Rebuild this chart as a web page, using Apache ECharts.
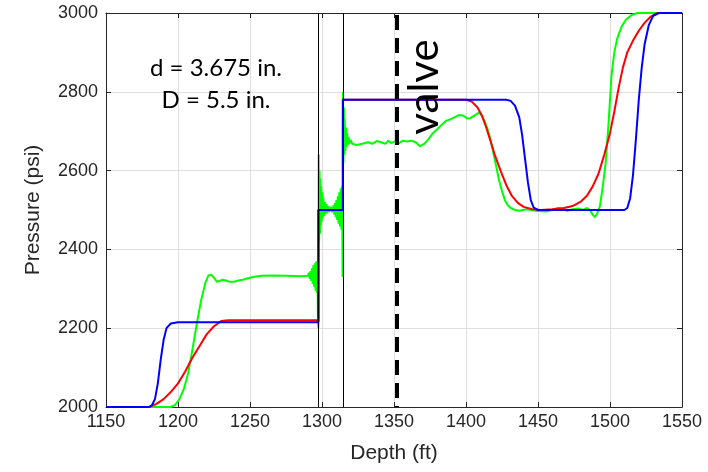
<!DOCTYPE html>
<html>
<head>
<meta charset="utf-8">
<script src="https://cdn.jsdelivr.net/npm/echarts@6/dist/echarts.min.js"></script>
<style>
html,body{margin:0;padding:0;background:#fff;}
#chart{width:708px;height:472px;}
</style>
</head>
<body>
<div id="chart"></div>
<script>
// ---- Data ----
const xTicks = [1150, 1200, 1250, 1300, 1350, 1400, 1450, 1500, 1550];
const yTicks = [2000, 2200, 2400, 2600, 2800, 3000];
const dividerDepths = [1297.5, 1314.5];
const valveDepth = 1352;

const bluePoints = [
  [1150,2000],[1180,2000],[1182,2005],[1184,2020],[1186,2060],[1188,2120],[1190,2170],
  [1192,2200],[1195,2212],[1200,2215],[1297.5,2215],[1297.5,2500],[1314.5,2500],
  [1314.5,2780],[1428,2780],[1431,2777],[1434,2765],[1437,2735],[1439,2690],[1441,2630],
  [1443,2570],[1445,2525],[1447,2506],[1450,2500],[1510,2500],[1512,2505],[1514,2530],
  [1516,2590],[1518,2680],[1520,2780],[1522,2860],[1524,2920],[1527,2970],[1530,2993],
  [1534,3000],[1550,3000]
];

const redPoints = [
  [1150,2000],[1180,2000],[1185,2008],[1190,2020],[1195,2038],[1200,2060],[1205,2090],
  [1210,2125],[1215,2155],[1220,2185],[1225,2205],[1230,2218],[1235,2220],[1297.5,2220],
  [1297.5,2500],[1314.5,2500],[1314.5,2780],[1400,2780],[1404,2775],[1408,2760],
  [1411,2740],[1414,2710],[1417,2675],[1420,2640],[1424,2600],[1428,2563],[1432,2535],
  [1436,2518],[1440,2508],[1446,2502],[1452,2500],[1460,2502],[1468,2505],[1474,2510],
  [1480,2522],[1484,2536],[1488,2560],[1492,2592],[1496,2640],[1500,2695],[1503,2750],
  [1506,2810],[1509,2862],[1512,2900],[1516,2930],[1520,2955],[1524,2975],[1528,2990],
  [1533,3000],[1550,3000]
];

const greenPoints = [
  [1150,2000],[1195,2000],[1198,2005],[1201,2020],[1204,2045],[1207,2085],[1210,2145],
  [1213,2210],[1216,2270],[1219,2315],[1221,2333],[1223,2336],[1225,2328],[1227,2318],
  [1229,2320],[1231,2323],[1233,2321],[1236,2318],[1239,2318],[1242,2321],[1245,2323],
  [1248,2326],[1252,2330],[1258,2333],[1265,2334],[1275,2333],[1285,2332],[1290,2333],
  [1291,2340],[1291.5,2325],[1292,2345],[1292.5,2320],[1293,2352],[1293.5,2312],
  [1294,2360],[1294.5,2305],[1295,2365],[1295.5,2295],[1296,2370],[1296.5,2290],
  [1297,2300],[1297.2,2215],[1297.5,2200],[1297.7,2640],[1298,2420],[1298.3,2600],
  [1298.6,2440],[1298.9,2580],[1299.2,2460],[1299.5,2560],[1299.8,2470],[1300.2,2545],
  [1300.6,2480],[1301,2530],[1301.5,2485],[1302,2520],[1302.5,2490],[1303,2515],
  [1303.5,2492],[1304,2510],[1305,2495],[1306,2508],[1307,2494],[1308,2512],[1308.5,2488],
  [1309,2518],[1309.5,2482],[1310,2525],[1310.5,2475],[1311,2535],[1311.5,2465],
  [1312,2545],[1312.5,2458],[1313,2555],[1313.5,2450],[1314,2560],[1314.3,2330],
  [1314.6,2800],[1314.9,2620],[1315.2,2760],[1315.5,2640],[1315.8,2730],[1316.2,2650],
  [1316.6,2710],[1317,2660],[1317.5,2695],[1318,2665],[1318.5,2685],[1319,2668],
  [1320,2678],[1321,2668],[1322,2672],[1324,2665],[1328,2668],[1332,2672],[1335,2668],
  [1338,2675],[1341,2672],[1344,2668],[1346,2676],[1348,2670],[1351,2674],[1353,2668],
  [1356,2676],[1359,2674],[1362,2676],[1365,2672],[1368,2662],[1371,2668],[1374,2680],
  [1377,2695],[1380,2705],[1383,2716],[1386,2726],[1389,2730],[1392,2735],[1395,2741],
  [1398,2740],[1401,2732],[1403,2733],[1406,2740],[1409,2747],[1411,2740],[1413,2725],
  [1415,2705],[1417,2680],[1419,2645],[1421,2610],[1423,2575],[1425,2548],[1427,2525],
  [1429,2512],[1431,2505],[1434,2500],[1437,2498],[1442,2502],[1447,2499],[1452,2497],
  [1456,2496],[1460,2501],[1464,2505],[1467,2503],[1470,2498],[1474,2502],[1478,2504],
  [1481,2500],[1484,2505],[1486,2500],[1488,2488],[1489.5,2482],[1491,2490],[1493,2510],
  [1495,2560],[1497,2620],[1499,2720],[1501,2840],[1503,2900],[1505,2935],[1508,2965],
  [1511,2983],[1515,2995],[1519,3000],[1550,3000]
];

// ---- Chart ----
const chart = echarts.init(document.getElementById('chart'), null, {renderer: 'canvas'});
const axisColor = '#262626';
const sansFont = 'Liberation Sans';
const tickFont = {fontFamily: sansFont, fontSize: 18, color: axisColor};
const plainFmt = v => String(v);

function lineSeries(name, pts, color) {
  return {
    name, type: 'line', data: pts, showSymbol: false, symbol: 'none',
    lineStyle: {color, width: 2}, itemStyle: {color}, animation: false, z: 3
  };
}

const option = {
  animation: false,
  backgroundColor: '#fff',
  grid: {left: 106, right: 26, top: 13, bottom: 65},
  xAxis: [{
    type: 'value', min: xTicks[0], max: xTicks[xTicks.length-1], interval: 50,
    name: 'Depth (ft)', nameLocation: 'middle', nameGap: 36,
    nameTextStyle: {fontFamily: sansFont, fontSize: 21, color: axisColor},
    axisLine: {show: true, onZero: false, lineStyle: {color: axisColor, width: 1}},
    axisTick: {show: true, inside: true, length: 5, lineStyle: {color: axisColor}},
    axisLabel: Object.assign({margin: 6, formatter: plainFmt}, tickFont),
    splitLine: {show: true, lineStyle: {color: '#dedede', width: 1}}
  }, {
    type: 'value', position: 'top', min: xTicks[0], max: xTicks[xTicks.length-1], interval: 50,
    axisLine: {show: true, onZero: false, lineStyle: {color: axisColor, width: 1}},
    axisTick: {show: true, inside: true, length: 5, lineStyle: {color: axisColor}},
    axisLabel: {show: false}, splitLine: {show: false}
  }],
  yAxis: [{
    type: 'value', min: yTicks[0], max: yTicks[yTicks.length-1], interval: 200,
    name: 'Pressure (psi)', nameLocation: 'middle', nameGap: 62, nameRotate: 90,
    nameTextStyle: {fontFamily: sansFont, fontSize: 21, color: axisColor},
    axisLine: {show: true, onZero: false, lineStyle: {color: axisColor, width: 1}},
    axisTick: {show: true, inside: true, length: 5, lineStyle: {color: axisColor}},
    axisLabel: Object.assign({margin: 8, formatter: plainFmt}, tickFont),
    splitLine: {show: true, lineStyle: {color: '#dedede', width: 1}}
  }, {
    type: 'value', position: 'right', min: yTicks[0], max: yTicks[yTicks.length-1], interval: 200,
    axisLine: {show: true, onZero: false, lineStyle: {color: axisColor, width: 1}},
    axisTick: {show: true, inside: true, length: 5, lineStyle: {color: axisColor}},
    axisLabel: {show: false}, splitLine: {show: false}
  }],
  series: [
    {
      name: 'markers', type: 'line', data: [], symbol: 'none', z: 2,
      markLine: {
        silent: true, symbol: ['none', 'none'], label: {show: false},
        data: dividerDepths.map(d => ({xAxis: d, lineStyle: {color: '#000', width: 1, type: 'solid'}}))
          .concat([{xAxis: valveDepth, lineStyle: {color: '#000', width: 4, type: [15, 8], dashOffset: -9}}])
      }
    },
    lineSeries('green', greenPoints, '#00ff00'),
    lineSeries('red', redPoints, '#ff0000'),
    lineSeries('blue', bluePoints, '#0000ff')
  ],
  graphic: [
    {type: 'text', x: 216, y: 68, style: {text: 'd = 3.675 in.', font: '24px Lato, "Open Sans", sans-serif', fill: '#000', textAlign: 'center', textVerticalAlign: 'middle'}, z: 10},
    {type: 'text', x: 216, y: 100, style: {text: 'D = 5.5 in.', font: '24px Lato, "Open Sans", sans-serif', fill: '#000', textAlign: 'center', textVerticalAlign: 'middle'}, z: 10},
    {type: 'text', x: 424, y: 87, rotation: Math.PI/2, style: {text: 'valve', font: '42px Lato, "Open Sans", sans-serif', fill: '#000', textAlign: 'center', textVerticalAlign: 'middle'}, z: 10}
  ]
};
chart.setOption(option);
</script>
</body>
</html>
